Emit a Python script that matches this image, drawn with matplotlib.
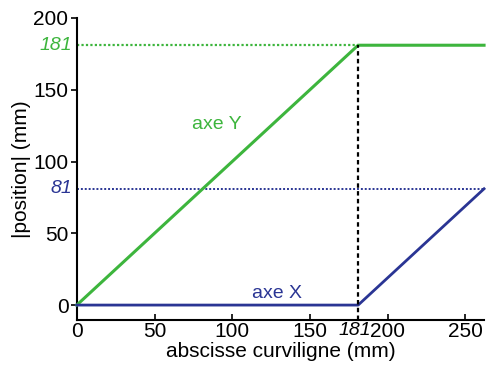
import matplotlib
matplotlib.use("Agg")
import matplotlib.pyplot as plt

plt.rcParams['font.family'] = ['Liberation Sans', 'DejaVu Sans']

s = [0, 181, 262]
pos_y = [0, 181, 181]
pos_x = [0, 0, 81]
s_switch = 181
y_max = 181
x_max = 81
xticks = [0, 50, 100, 150, 200, 250]
yticks = [0, 50, 100, 150, 200]

green = '#3db53d'
blue = '#2a3594'

fig = plt.figure(figsize=(4.86, 3.74), dpi=100)
ax = fig.add_axes([0.158, 0.144, 0.838, 0.808])

ax.plot(s, pos_y, color=green, lw=2.2, clip_on=False, zorder=3)
ax.plot(s, pos_x, color=blue, lw=2.0, clip_on=False, zorder=3)
ax.plot([0, s_switch], [y_max, y_max], color=green, lw=1.6, ls=(0, (1, 1)), zorder=2)
ax.plot([0, s[-1]], [x_max, x_max], color=blue, lw=1.4, ls=(0, (1, 1)), zorder=2)
ax.plot([s_switch, s_switch], [-10.5, y_max], color='black', lw=1.6, ls=(0, (2, 1.5)), zorder=4)

ax.set_xlim(0, 262)
ax.set_ylim(-10.5, 200)
ax.set_xticks(xticks)
ax.set_yticks(yticks)
ax.tick_params(axis='both', labelsize=15, width=1.2, colors='black')
ax.tick_params(axis='x', direction='in', length=4, pad=1)
ax.tick_params(axis='y', direction='out', length=4, pad=2)
for sp in ['top', 'right']:
    ax.spines[sp].set_visible(False)
for sp in ['left', 'bottom']:
    ax.spines[sp].set_linewidth(1.5)

ax.text(s_switch - 2, -11.5, '181', style='italic', fontsize=14, ha='center', va='top',
        transform=ax.transData)
ax.text(-3, y_max, '181', style='italic', fontsize=14, color=green, ha='right', va='center')
ax.text(-3, x_max, '81', style='italic', fontsize=14, color=blue, ha='right', va='center')

ax.text(90, 126, 'axe Y', fontsize=14, color=green, ha='center', va='center')
ax.text(129, 8, 'axe X', fontsize=14, color=blue, ha='center', va='center')

ax.set_xlabel('abscisse curviligne (mm)', fontsize=15, labelpad=1)
ax.set_ylabel('|position| (mm)', fontsize=15, labelpad=2)

fig.savefig('out.png', dpi=100)
